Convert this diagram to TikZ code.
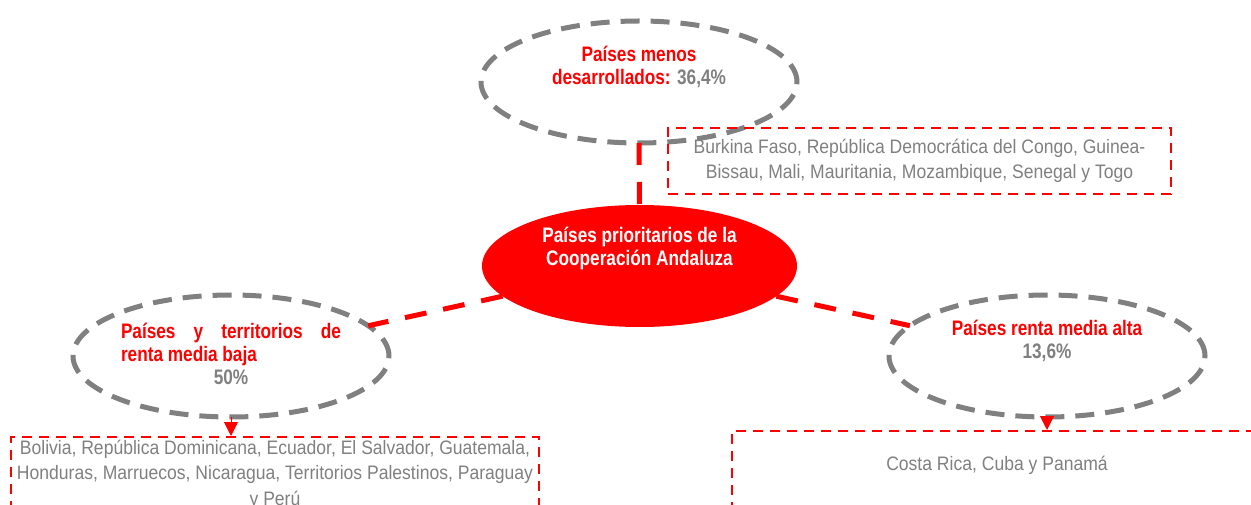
\documentclass[tikz,border=0pt]{standalone}
\usepackage{fontspec}
\setmainfont{Liberation Sans}[FakeStretch=0.82]
\newfontfamily\grisfont{Liberation Sans}[FakeStretch=0.9]
\usetikzlibrary{shapes.geometric,arrows.meta}
\definecolor{grisTxt}{RGB}{128,128,128}
\tikzset{
  grupo/.style={ellipse, draw=grisTxt, line width=5pt, dash pattern=on 19pt off 11pt,
    minimum width=316pt, minimum height=122pt, inner sep=0pt, outer sep=0pt},
  titulo/.style={font=\fontsize{21}{23}\selectfont\bfseries, text=red, align=center, inner sep=0pt},
  lista/.style={draw=red, line width=2pt, dash pattern=on 10pt off 7pt, text=grisTxt,
    font=\grisfont\fontsize{19.5}{25}\selectfont, align=center},
  enlace/.style={red, line width=5pt, dash pattern=on 22pt off 17pt},
  flecha/.style={red, line width=1pt, -{Triangle[length=14pt,width=14pt]}}
}
\begin{document}
\begin{tikzpicture}[x=1pt,y=-1pt]
    \useasboundingbox (0,0) rectangle (1251,505);

    % Países menos desarrollados
    \node[grupo] (menos) at (639,82) {};
    \node[titulo] (menosTxt) at ([yshift=15pt]menos.center) {Países menos\\desarrollados: {\color{grisTxt}36,4\%}};
    \node[lista, minimum width=503pt, minimum height=66pt] (menosLista) at (919.5,161)
        {Burkina Faso, República Democrática del Congo, Guinea-\\Bissau, Mali, Mauritania, Mozambique, Senegal y Togo};

    % Elipse central
    \node[ellipse, fill=red, minimum width=315pt, minimum height=122pt, inner sep=0pt, outer sep=0pt] (prio) at (639.5,266) {};
    \node[titulo, text=white] (prioTxt) at ([yshift=18pt]prio.center) {Países prioritarios de la\\Cooperación Andaluza};

    % Renta media baja
    \node[grupo] (baja) at (231,356) {};
    \node[titulo] (bajaTxt) at ([yshift=2pt]baja.center)
        {\parbox{220pt}{Países y territorios de\linebreak renta media baja\par\centering\color{grisTxt}50\%}};
    \node[lista, anchor=north, minimum width=528pt, inner ysep=3pt, text depth=50pt,
        font=\grisfont\fontsize{19.5}{25.5}\selectfont] (bajaLista) at (275,436)
        {Bolivia, República Dominicana, Ecuador, El Salvador, Guatemala,\\Honduras, Marruecos, Nicaragua, Territorios Palestinos, Paraguay\\y Perú};

    % Renta media alta
    \node[grupo] (alta) at (1047,356) {};
    \node[titulo] (altaTxt) at ([yshift=15pt]alta.center) {Países renta media alta\\{\color{grisTxt}13,6\%}};
    \node[lista, anchor=north west, minimum width=530pt, inner ysep=25pt, text height=14pt, text depth=80pt] (altaLista) at (731,430)
        {Costa Rica, Cuba y Panamá};

    % Enlaces
    \draw[enlace] (menos) -- (prio);
    \draw[enlace] (prio) -- (baja);
    \draw[enlace] (prio) -- (alta);
    \draw[flecha] (baja.south) -- (baja.south |- bajaLista.north);
    \draw[flecha] (alta.south) -- (alta.south |- altaLista.north);
\end{tikzpicture}
\end{document}
